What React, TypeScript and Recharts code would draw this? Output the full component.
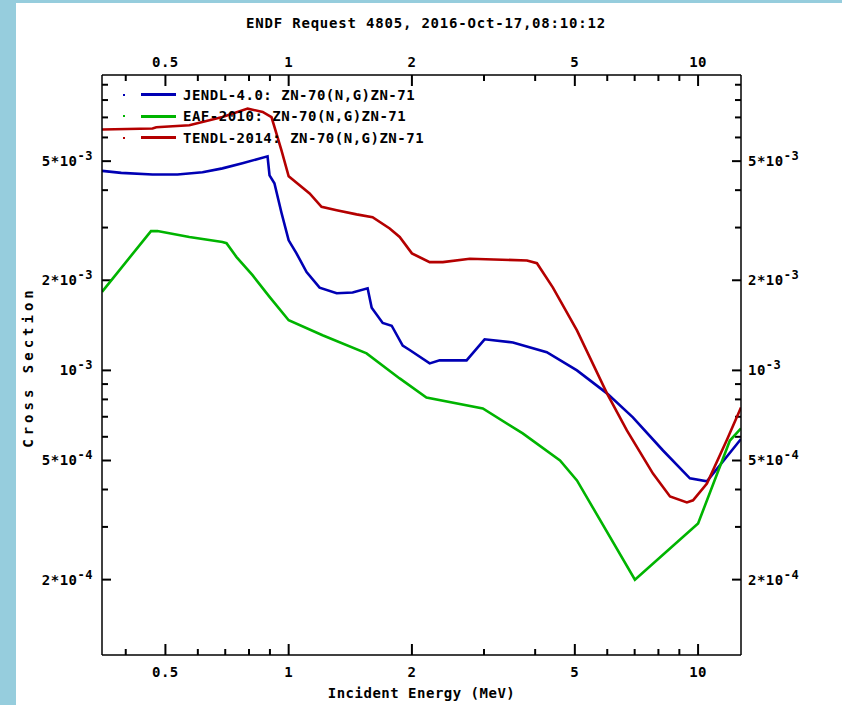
import React from "react";
import { LineChart, Line, XAxis, YAxis, Legend, ReferenceLine } from "recharts";

const FONT = "'DejaVu Sans Mono', 'Liberation Mono', monospace";

// JENDL-4.0
const jendlEnergy = [0.35, 0.39, 0.465, 0.535, 0.616, 0.689, 0.771, 0.888, 0.898, 0.923, 0.96, 1.0, 1.045, 1.106, 1.19, 1.31, 1.433, 1.559, 1.595, 1.697, 1.785, 1.899, 1.975, 2.21, 2.338, 2.72, 3.01, 3.53, 4.27, 5.06, 5.99, 6.93, 8.21, 9.55, 10.51, 12.73];
const jendlXs = [4.64e-3, 4.57e-3, 4.51e-3, 4.51e-3, 4.59e-3, 4.73e-3, 4.92e-3, 5.19e-3, 4.48e-3, 4.22e-3, 3.37e-3, 2.72e-3, 2.46e-3, 2.13e-3, 1.89e-3, 1.81e-3, 1.82e-3, 1.88e-3, 1.62e-3, 1.44e-3, 1.41e-3, 1.21e-3, 1.17e-3, 1.055e-3, 1.08e-3, 1.08e-3, 1.27e-3, 1.24e-3, 1.15e-3, 1.0e-3, 8.38e-4, 6.97e-4, 5.4e-4, 4.36e-4, 4.26e-4, 5.9e-4];

// EAF-2010
const eafEnergy = [0.35, 0.461, 0.478, 0.572, 0.689, 0.705, 0.746, 0.816, 0.898, 1.0, 1.21, 1.55, 1.867, 2.17, 2.98, 3.73, 4.6, 5.06, 7.01, 10.0, 11.96, 12.73];
const eafXs = [1.83e-3, 2.92e-3, 2.92e-3, 2.79e-3, 2.685e-3, 2.66e-3, 2.39e-3, 2.08e-3, 1.76e-3, 1.47e-3, 1.31e-3, 1.14e-3, 9.4e-4, 8.12e-4, 7.46e-4, 6.16e-4, 5.0e-4, 4.29e-4, 2.0e-4, 3.08e-4, 5.83e-4, 6.4e-4];

// TENDL-2014
const tendlEnergy = [0.35, 0.465, 0.475, 0.572, 0.689, 0.794, 0.864, 0.908, 0.96, 1.0, 1.125, 1.203, 1.31, 1.465, 1.603, 1.765, 1.867, 2.0, 2.21, 2.38, 2.77, 3.82, 4.04, 4.42, 5.06, 5.99, 6.7, 7.76, 8.54, 9.39, 9.72, 10.51, 11.77, 12.73];
const tendlXs = [6.38e-3, 6.43e-3, 6.49e-3, 6.59e-3, 7.02e-3, 7.49e-3, 7.3e-3, 7.01e-3, 5.44e-3, 4.45e-3, 3.9e-3, 3.52e-3, 3.43e-3, 3.32e-3, 3.25e-3, 2.98e-3, 2.79e-3, 2.46e-3, 2.3e-3, 2.3e-3, 2.36e-3, 2.33e-3, 2.28e-3, 1.89e-3, 1.36e-3, 8.38e-4, 6.3e-4, 4.52e-4, 3.79e-4, 3.62e-4, 3.68e-4, 4.19e-4, 5.88e-4, 7.52e-4];

const seriesNames = ["JENDL-4.0: ZN-70(N,G)ZN-71", "EAF-2010: ZN-70(N,G)ZN-71", "TENDL-2014: ZN-70(N,G)ZN-71"];
const seriesColors = ["#0000b4", "#00b400", "#b40000"];

const energyTicks = [0.4, 0.5, 0.6, 0.7, 0.8, 0.9, 1, 2, 3, 4, 5, 6, 7, 8, 9, 10];
const energyLabels = [0.5, 1, 2, 5, 10];
const xsTicks = [2e-4, 3e-4, 4e-4, 5e-4, 6e-4, 7e-4, 8e-4, 9e-4, 1e-3, 2e-3, 3e-3, 4e-3, 5e-3, 6e-3, 7e-3, 8e-3, 9e-3];
const xsLabels = [2e-4, 5e-4, 1e-3, 2e-3, 5e-3];

const X_MIN = 0.35;
const X_MAX = 12.73;
const Y_MIN = 1.12e-4;
const Y_MAX = 9.7e-3;
const PLOT_W = 639;
const PLOT_H = 580;
// log-scale step per pixel, used to turn a tick length in px into data units
const xStep = Math.pow(X_MAX / X_MIN, 1 / PLOT_W);
const yStep = Math.pow(Y_MAX / Y_MIN, 1 / PLOT_H);

const toRows = (e: number[], s: number[]) => e.map((v, i) => ({ e: v, xs: s[i] }));
const seriesData = [toRows(jendlEnergy, jendlXs), toRows(eafEnergy, eafXs), toRows(tendlEnergy, tendlXs)];

const isIn = (list: number[], v: number) => list.some((l) => Math.abs(l - v) / l < 1e-6);

const textStyle = { fontFamily: FONT, fontWeight: "bold" as const, fontSize: 14, fill: "#000", letterSpacing: 0.5 };

function XTick(props: any) {
  const x = Number(props.x);
  const y = Number(props.y);
  const v = props.payload.value;
  const top = props.side === "top";
  if (!isIn(energyLabels, v)) return <g />;
  return (
    <text x={x} y={top ? y - 8 : y + 22} textAnchor="middle" {...textStyle}>
      {String(v)}
    </text>
  );
}

function YTick(props: any) {
  const x = Number(props.x);
  const y = Number(props.y);
  const v = props.payload.value;
  const right = props.side === "right";
  if (!isIn(xsLabels, v)) return <g />;
  const exp = Math.floor(Math.log10(v * 1.000001));
  const mant = Math.round(v / Math.pow(10, exp));
  return (
    <text x={right ? x + 7 : x - 9} y={y + 5} textAnchor={right ? "start" : "end"} {...textStyle}>
      <tspan>{mant === 1 ? "10" : `${mant}*10`}</tspan>
      <tspan dy={-6} fontSize={12}>{`-${-exp}`}</tspan>
    </text>
  );
}

function YTitle(props: any) {
  const vb = props.viewBox || { x: 0, y: 75, width: 102, height: 580 };
  const cx = vb.x + 28;
  const cy = vb.y + vb.height / 2 + 2;
  return (
    <text x={cx} y={cy} transform={`rotate(-90 ${cx} ${cy})`} textAnchor="middle" dominantBaseline="central" {...textStyle} letterSpacing={4}>
      Cross Section
    </text>
  );
}

function XTitle(props: any) {
  const vb = props.viewBox || { x: 102, y: 655, width: 639, height: 50 };
  return (
    <text x={vb.x + vb.width / 2} y={vb.y + 43} textAnchor="middle" {...textStyle}>
      Incident Energy (MeV)
    </text>
  );
}

function renderLegend() {
  return (
    <div style={{ fontFamily: FONT, fontWeight: "bold", fontSize: 14, color: "#000", letterSpacing: 0.5 }}>
      {seriesNames.map((name, i) => (
        <div key={name} style={{ display: "flex", alignItems: "center", height: 21.5 }}>
          <span style={{ width: 2, height: 2, background: seriesColors[i], marginLeft: 5 }} />
          <span style={{ width: 35, height: 3, background: seriesColors[i], marginLeft: 16 }} />
          <span style={{ marginLeft: 7, whiteSpace: "nowrap" }}>{name}</span>
        </div>
      ))}
    </div>
  );
}

// inward tick marks on all four sides, majors longer
const tickSegments: { key: string; seg: { x: number; y: number }[] }[] = [];
energyTicks.forEach((v) => {
  const len = isIn(energyLabels, v) ? 11 : 6;
  const f = Math.pow(yStep, len);
  tickSegments.push({ key: `b${v}`, seg: [{ x: v, y: Y_MIN }, { x: v, y: Y_MIN * f }] });
  tickSegments.push({ key: `t${v}`, seg: [{ x: v, y: Y_MAX }, { x: v, y: Y_MAX / f }] });
});
xsTicks.forEach((v) => {
  const len = isIn(xsLabels, v) ? 9 : 6;
  const f = Math.pow(xStep, len);
  tickSegments.push({ key: `l${v}`, seg: [{ x: X_MIN, y: v }, { x: X_MIN * f, y: v }] });
  tickSegments.push({ key: `r${v}`, seg: [{ x: X_MAX, y: v }, { x: X_MAX / f, y: v }] });
});

export default function App() {
  return (
    <div style={{ position: "absolute", left: 0, top: 0, width: 842, height: 705, background: "#fff" }}>
      <div style={{ position: "absolute", left: 0, top: 0, width: 16, height: 705, background: "#96cddd" }} />
      <div style={{ position: "absolute", left: 0, top: 0, width: 842, height: 3, background: "#96cddd" }} />
      <div
        style={{
          position: "absolute",
          left: 0,
          width: 842,
          top: 15,
          textAlign: "center",
          fontFamily: FONT,
          fontWeight: "bold",
          fontSize: 14,
          letterSpacing: 0.8,
          color: "#000",
          paddingLeft: 10,
          boxSizing: "border-box",
        }}
      >
        ENDF Request 4805, 2016-Oct-17,08:10:12
      </div>
      <LineChart width={842} height={705} margin={{ top: 0, right: 0, bottom: 0, left: 0 }}>
        <XAxis
          xAxisId="b"
          orientation="bottom"
          type="number"
          dataKey="e"
          scale="log"
          domain={[X_MIN, X_MAX]}
          allowDataOverflow
          ticks={energyTicks}
          interval={0}
          height={50}
          tickSize={0}
          tickMargin={0}
          tickLine={false}
          axisLine={{ stroke: "#000", strokeWidth: 1.5 }}
          tick={<XTick side="bottom" />}
          label={<XTitle />}
        />
        <XAxis
          xAxisId="t"
          orientation="top"
          type="number"
          dataKey="e"
          scale="log"
          domain={[X_MIN, X_MAX]}
          allowDataOverflow
          ticks={energyTicks}
          interval={0}
          height={75}
          tickSize={0}
          tickMargin={0}
          tickLine={false}
          axisLine={{ stroke: "#000", strokeWidth: 1.5 }}
          tick={<XTick side="top" />}
        />
        <YAxis
          yAxisId="l"
          orientation="left"
          type="number"
          dataKey="xs"
          scale="log"
          domain={[Y_MIN, Y_MAX]}
          allowDataOverflow
          ticks={xsTicks}
          interval={0}
          width={102}
          tickSize={0}
          tickMargin={0}
          tickLine={false}
          axisLine={{ stroke: "#000", strokeWidth: 1.5 }}
          tick={<YTick side="left" />}
          label={<YTitle />}
        />
        <YAxis
          yAxisId="r"
          orientation="right"
          type="number"
          dataKey="xs"
          scale="log"
          domain={[Y_MIN, Y_MAX]}
          allowDataOverflow
          ticks={xsTicks}
          interval={0}
          width={101}
          tickSize={0}
          tickMargin={0}
          tickLine={false}
          axisLine={{ stroke: "#000", strokeWidth: 1.5 }}
          tick={<YTick side="right" />}
        />
        {tickSegments.map((t) => (
          <ReferenceLine key={t.key} xAxisId="b" yAxisId="l" segment={t.seg} stroke="#000" strokeWidth={2} ifOverflow="visible" />
        ))}
        {seriesData.map((rows, i) => (
          <Line
            key={seriesNames[i]}
            xAxisId="b"
            yAxisId="l"
            data={rows}
            dataKey="xs"
            name={seriesNames[i]}
            type="linear"
            stroke={seriesColors[i]}
            strokeWidth={2.6}
            dot={false}
            isAnimationActive={false}
          />
        ))}
        <Legend
          layout="vertical"
          align="center"
          verticalAlign="middle"
          content={renderLegend}
          wrapperStyle={{ position: "absolute", left: 118, top: 84, width: "auto" }}
        />
      </LineChart>
    </div>
  );
}
